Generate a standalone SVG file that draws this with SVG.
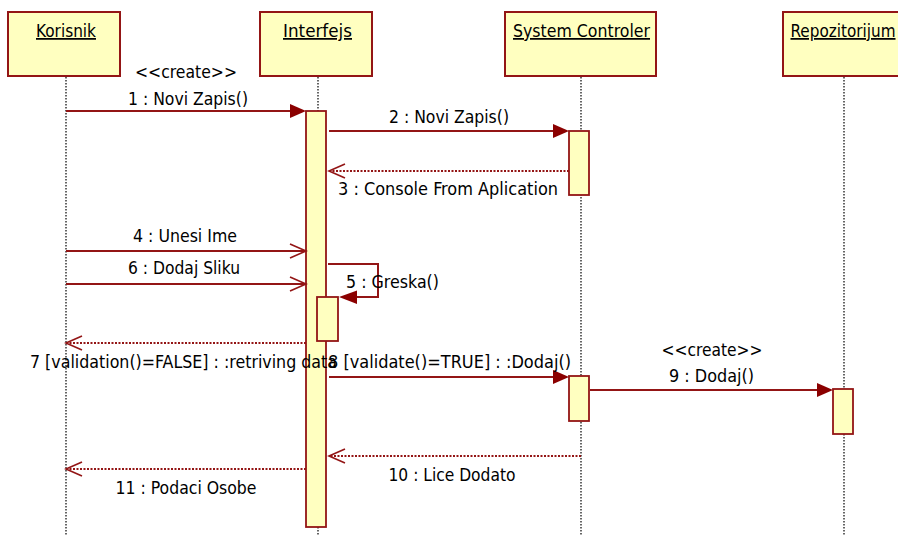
<svg xmlns="http://www.w3.org/2000/svg" width="898" height="536" viewBox="0 0 898 536">
<style>
.box{fill:#FFFFC0;stroke:#931515;stroke-width:2}
.act{fill:#FFFFC0;stroke:#931515;stroke-width:1.8}
.life{stroke:#000;stroke-width:1.2;stroke-dasharray:1.5 1.5;fill:none}
.msg{stroke:#931515;stroke-width:2;fill:none}
.ret{stroke:#931515;stroke-width:1.8;fill:none;stroke-dasharray:2 1.5}
.open{stroke:#931515;stroke-width:1.6;fill:none}
.tri{fill:#8B0000;stroke:none}
text{font-family:"DejaVu Sans Condensed","Liberation Sans",Arial,sans-serif;font-size:17.5px;fill:#000}
.t{text-anchor:middle}
.u{text-decoration:underline}
</style>
<rect width="898" height="536" fill="#fff"/>
<g id="korisnik">
<rect class="box" x="8" y="12" width="112" height="64"/>
<text class="t u" x="66" y="37" textLength="60" lengthAdjust="spacingAndGlyphs">Korisnik</text>
<line class="life" x1="66" y1="77" x2="66" y2="536"/>
</g>
<g id="interfejs">
<rect class="box" x="260" y="12" width="112" height="64"/>
<text class="t u" x="317.5" y="37" textLength="69" lengthAdjust="spacingAndGlyphs">Interfejs</text>
<line class="life" x1="318" y1="77" x2="318" y2="536"/>
<rect class="act" x="306" y="111" width="20" height="416"/>
<rect class="act" x="317" y="297" width="21" height="44"/>
</g>
<g id="system-controler">
<rect class="box" x="505" y="12" width="151" height="64"/>
<text class="t u" x="581.5" y="37" textLength="137" lengthAdjust="spacingAndGlyphs">System Controler</text>
<line class="life" x1="581" y1="77" x2="581" y2="536"/>
<rect class="act" x="569" y="131" width="20" height="64"/>
<rect class="act" x="569" y="376" width="20" height="45"/>
</g>
<g id="repozitorijum">
<rect class="box" x="783" y="12" width="124" height="64"/>
<text class="t u" x="843" y="37" textLength="105" lengthAdjust="spacingAndGlyphs">Repozitorijum</text>
<line class="life" x1="844" y1="77" x2="844" y2="536"/>
<rect class="act" x="833" y="389" width="20" height="45"/>
</g>
<g id="connectors">
<line class="msg" x1="66" y1="111" x2="292" y2="111"/>
<polygon class="tri" points="306,111 290,104 290,118"/>
<text class="t" x="186" y="78" textLength="102" lengthAdjust="spacingAndGlyphs">&lt;&lt;create&gt;&gt;</text>
<text class="t" x="188" y="105" textLength="120" lengthAdjust="spacingAndGlyphs">1 : Novi Zapis()</text>
<line class="msg" x1="329" y1="131" x2="555" y2="131"/>
<polygon class="tri" points="569,131 553,124 553,138"/>
<text class="t" x="449" y="123" textLength="120" lengthAdjust="spacingAndGlyphs">2 : Novi Zapis()</text>
<line class="ret" x1="569" y1="171" x2="330" y2="171"/>
<polyline class="open" points="345,164 329,171 345,178"/>
<text class="t" x="448" y="195" textLength="220" lengthAdjust="spacingAndGlyphs">3 : Console From Aplication</text>
<line class="msg" x1="66" y1="251" x2="305" y2="251"/>
<polyline class="open" points="290,244 306,251 290,258"/>
<text class="t" x="185" y="242" textLength="104" lengthAdjust="spacingAndGlyphs">4 : Unesi Ime</text>
<line class="msg" x1="66" y1="284" x2="305" y2="284"/>
<polyline class="open" points="290,277 306,284 290,291"/>
<text class="t" x="184" y="274" textLength="112" lengthAdjust="spacingAndGlyphs">6 : Dodaj Sliku</text>
<polyline class="msg" points="328,264 378,264 378,297 354,297"/>
<polygon class="tri" points="339,297 357,290.5 357,304"/>
<text class="t" x="392.5" y="288" textLength="93" lengthAdjust="spacingAndGlyphs">5 : Greska()</text>
<line class="ret" x1="306" y1="343" x2="67" y2="343"/>
<polyline class="open" points="82,336 66,343 82,350"/>
<text class="t" x="183.5" y="368" textLength="307" lengthAdjust="spacingAndGlyphs">7 [validation()=FALSE] : :retriving data</text>
<line class="msg" x1="329" y1="377" x2="555" y2="377"/>
<polygon class="tri" points="569,377 553,370 553,384"/>
<text class="t" x="449.5" y="368" textLength="243" lengthAdjust="spacingAndGlyphs">8 [validate()=TRUE] : :Dodaj()</text>
<line class="msg" x1="590" y1="390" x2="819" y2="390"/>
<polygon class="tri" points="833,390 817,383 817,397"/>
<text class="t" x="712" y="356" textLength="101" lengthAdjust="spacingAndGlyphs">&lt;&lt;create&gt;&gt;</text>
<text class="t" x="711.5" y="382" textLength="85" lengthAdjust="spacingAndGlyphs">9 : Dodaj()</text>
<line class="ret" x1="581" y1="456" x2="330" y2="456"/>
<polyline class="open" points="345,449 329,456 345,463"/>
<text class="t" x="452" y="481" textLength="127" lengthAdjust="spacingAndGlyphs">10 : Lice Dodato</text>
<line class="ret" x1="306" y1="469" x2="67" y2="469"/>
<polyline class="open" points="82,462 66,469 82,476"/>
<text class="t" x="186" y="494" textLength="141" lengthAdjust="spacingAndGlyphs">11 : Podaci Osobe</text>
</g>
</svg>
